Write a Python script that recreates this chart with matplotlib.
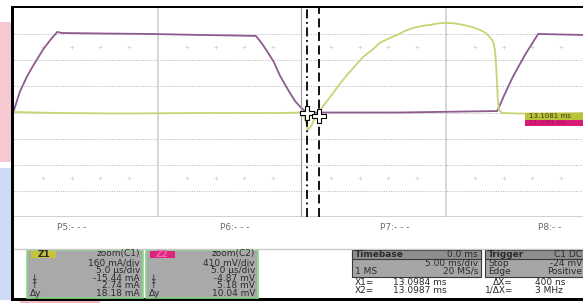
import matplotlib
matplotlib.use("Agg")
import matplotlib.pyplot as plt
from matplotlib.patches import Rectangle

# trace C1 (zoom Z1): time in us, current in mA
c1_t = [0, 1.0, 2.3, 3.3, 5.0, 6.3, 7.5, 8.3, 14.9, 23.6, 32.3, 37.5, 42.0, 43.1, 43.9,
        45.1, 46.2, 47.2, 47.9, 48.8, 49.7, 50.5, 51.4, 67.0, 83.9, 85.2, 86.6, 88.7,
        91.0, 94.8, 98.8]
c1_ma = [15, 126, 224, 285, 383, 444, 493, 487, 484, 481, 475, 472, 469, 420, 377,
         310, 224, 162, 120, 70, 34, 9, 0, 0, 9, 113, 218, 352, 481, 478, 475]

# trace C2 (zoom Z2): time in us, voltage in mV
c2_t = [0, 8.0, 18.4, 32.3, 46.2, 49.7, 50.2, 50.7, 51.0, 51.6, 52.3, 53.0, 53.8, 54.9,
        56.3, 57.8, 59.2, 60.6, 62.2, 63.5, 64.9, 66.5, 67.9, 69.3, 70.8, 72.2, 73.6,
        75.2, 76.6, 78.0, 79.5, 80.9, 81.9, 82.6, 83.2, 83.5, 83.7, 83.85, 84.0, 84.2,
        84.7, 87.8, 98.8]
c2_mv = [8, -8, -16, -8, -8, 0, -24, -149, -275, -212, -71, 8, 118, 243,
         416, 589, 730, 872, 982, 1092, 1155, 1217, 1280, 1327, 1359, 1374, 1398,
         1406, 1398, 1374, 1343, 1296, 1249, 1186, 1107, 982, 746, 463, 196, 39,
         -8, -16, -8]

us_per_div = 5.0
ma_per_div = 160.0
mv_per_div = 410.0

cursor_x1 = 50.9
cursor_x2 = 53.0
ref_t = 49.8
cross_pts = [(50.9, 0.0), (53.0, -0.12)]

param_labels = ["P5:- - -", "P6:- - -", "P7:- - -", "P8:- -"]

z1_lines = ["160 mA/div", "5.0 \u00b5s/div", "-15.44 mA", "2.74 mA", "18.18 mA"]
z2_lines = ["410 mV/div", "5.0 \u00b5s/div", "-4.87 mV", "5.18 mV", "10.04 mV"]
side_marks = ["", "", "\u2193", "\u2191", "\u0394y"]

timebase = ("Timebase", "0.0 ms", "5.00 ms/div", "1 MS", "20 MS/s")
trigger = ("Trigger", "C1 DC", "Stop", "-24 mV", "Edge", "Positive")
cursor_cols = [("X1=", "X2="), ("13.0984 ms", "13.0987 ms"),
               ("\u0394X=", "1/\u0394X="), ("400 ns", "3 MHz")]
marker_label = "13.1081 ms"

PURPLE = "#8f5a8f"
YELLOW = "#c9d375"
FONT = "DejaVu Sans"

W, H = 583, 303
fig = plt.figure(figsize=(W / 100, H / 100), dpi=100)

# background, with the faint coloured smudges at the left
bg = fig.add_axes([0, 0, 1, 1])
bg.set_xlim(0, W)
bg.set_ylim(H, 0)
bg.axis("off")
bg.add_patch(Rectangle((0, 22), 11, 140, color="#f6c9d2", lw=0))
bg.add_patch(Rectangle((0, 168), 11, 132, color="#cfdaf6", lw=0))
bg.add_patch(Rectangle((20, 300), 80, 3, color="#f3b7c4", lw=0))

# scope grid
gx0, gx1, gy0, gy1 = 14, 583, 8, 217
ax = fig.add_axes([gx0 / W, 1 - gy1 / H, (gx1 - gx0) / W, (gy1 - gy0) / H])
ax.set_facecolor("white")
ax.set_xlim(0, (gx1 - gx0) / 28.8 * us_per_div)
ax.set_ylim(-4, 4)
ax.set_xticks([])
ax.set_yticks([])
for s in ax.spines.values():
    s.set_visible(False)

for yv in range(-3, 4):
    ax.axhline(yv, color="#b4b4b4", lw=0.7, ls=(0, (1, 1.5)), zorder=1)
ax.axhline(-4, color="#c8c8c8", lw=1.2, zorder=1)
for xv in [5 * us_per_div, 15 * us_per_div]:
    ax.axvline(xv, color="#cfcfcf", lw=1.2, zorder=1)
tick_t = [k * us_per_div for k in range(1, 20) if k % 5 != 0]
for yv in [2.5, -2.5]:
    ax.plot(tick_t, [yv] * len(tick_t), ls="none", marker="+", ms=3,
            color="#d6d6d6", mew=0.6, zorder=1)

ax.plot(c1_t, [v / ma_per_div for v in c1_ma], color=PURPLE, lw=1.3, zorder=3)
ax.plot(c2_t, [v / mv_per_div for v in c2_mv], color=YELLOW, lw=1.3, zorder=4)

ax.axvline(ref_t, color="#9a9a9a", lw=0.8, zorder=5)
ax.axvline(cursor_x1, color="black", lw=1.3, ls=(0, (5, 2, 1, 2)), zorder=5)
ax.axvline(cursor_x2, color="black", lw=1.3, ls=(0, (5, 2.5)), zorder=5)
for cx, cy in cross_pts:
    ax.plot(cx, cy, marker="P", ms=10, mfc="white", mec="black", mew=0.8, zorder=6)

# overlay for frame, labels and info panels
ov = fig.add_axes([0, 0, 1, 1], zorder=5)
ov.set_xlim(0, W)
ov.set_ylim(H, 0)
ov.axis("off")
ov.patch.set_alpha(0)

# trace end labels
ov.add_patch(Rectangle((525, 113), 62, 6.5, color="#b9c23a", lw=0))
ov.add_patch(Rectangle((525, 120), 62, 5.5, color="#d81b76", lw=0))
ov.text(529, 116.3, marker_label, fontsize=5, color="#3a3a10", va="center",
        family=FONT)
ov.text(529, 122.8, marker_label, fontsize=4.5, color="#a01050", va="center",
        family=FONT)

# black frame
ov.add_patch(Rectangle((11, 5.5), W, 2.6, color="black", lw=0))
ov.add_patch(Rectangle((11, 5.5), 2.6, 295, color="black", lw=0))
ov.add_patch(Rectangle((11, 297.8), W, 3.2, color="black", lw=0))

ov.plot([14, W], [248.5, 248.5], color="#c8c8c8", lw=1)

for lab, px in zip(param_labels, [57, 220, 380, 538]):
    ov.text(px, 227.5, lab, fontsize=6.5, color="#6a6a6a", va="center", family=FONT)

txt = dict(fontsize=6.5, color="#2b2b2b", va="center", family=FONT)


def zoom_panel(x0, x1, tag, tag_color, tag_text_color, title, lines):
    ov.add_patch(Rectangle((x0, 249.5), x1 - x0, 48.5, fc="#a9a9a9",
                           ec="#86d886", lw=1.2))
    ov.add_patch(Rectangle((x0 + 4, 250.8), 25, 6.8, color=tag_color, lw=0))
    ov.text(x0 + 16.5, 254.3, tag, ha="center", fontweight="bold",
            **{**txt, "color": tag_text_color})
    ov.text(x1 - 3, 253.5, title, ha="right", **txt)
    ov.text(x1 - 3, 278.2, "\n".join(lines), ha="right", multialignment="right",
            linespacing=0.78, **txt)
    ov.text(x0 + 3, 278.2, "\n".join(side_marks), ha="left", linespacing=0.78,
            **txt)


zoom_panel(27, 143, "Z1", "#c9c23c", "#2b2b2b", "zoom(C1)", z1_lines)
zoom_panel(146, 258, "Z2", "#e0237c", "#f06aa8", "zoom(C2)", z2_lines)

# timebase box
ov.add_patch(Rectangle((352, 250), 129, 26.5, fc="#a6a6a6", ec="#3a3a3a", lw=0.8))
ov.add_patch(Rectangle((352, 250), 129, 8.5, fc="#8e8e8e", ec="#3a3a3a", lw=0.8))
ov.text(355, 254.3, timebase[0], fontweight="bold", **txt)
ov.text(478, 254.3, timebase[1], ha="right", **txt)
ov.text(478, 267.3, timebase[2] + "\n" + timebase[4], ha="right",
        multialignment="right", linespacing=0.88, **txt)
ov.text(355, 271.3, timebase[3], **txt)

# trigger box
ov.add_patch(Rectangle((485, 250), 110, 26.5, fc="#a6a6a6", ec="#3a3a3a", lw=0.8))
ov.add_patch(Rectangle((485, 250), 110, 8.5, fc="#8e8e8e", ec="#3a3a3a", lw=0.8))
ov.text(488, 254.3, trigger[0], fontweight="bold", **txt)
ov.text(582, 254.3, trigger[1], ha="right", **txt)
ov.text(488, 267.3, trigger[2] + "\n" + trigger[4], linespacing=0.88, **txt)
ov.text(582, 267.3, trigger[3] + "\n" + trigger[5], ha="right",
        multialignment="right", linespacing=0.88, **txt)

# cursor readouts
for (a, b), px, ha in zip(cursor_cols, [355, 393, 513, 535],
                          ["left", "left", "right", "left"]):
    ov.text(px, 286.5, a + "\n" + b, ha=ha, multialignment=ha,
            linespacing=0.78, **txt)

fig.savefig("out.png", dpi=100)
